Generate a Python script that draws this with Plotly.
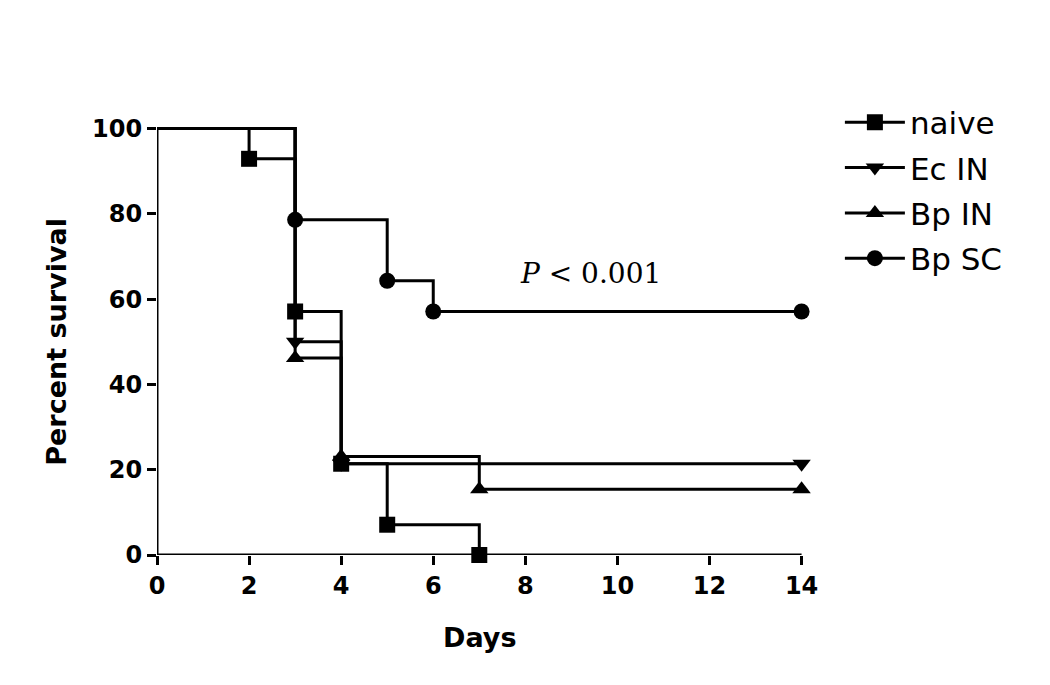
import plotly.graph_objects as go

# Survival data (Kaplan-Meier steps)
days_naive = [0, 2, 3, 4, 5, 7]
surv_naive = [100, 92.9, 57.1, 21.4, 7.1, 0]

days_ec = [0, 3, 4, 14]
surv_ec = [100, 50.0, 21.4, 21.4]

days_bpin = [0, 3, 4, 7, 14]
surv_bpin = [100, 46.2, 23.1, 15.4, 15.4]

days_bpsc = [0, 3, 5, 6, 14]
surv_bpsc = [100, 78.6, 64.3, 57.1, 57.1]

x_ticks = [0, 2, 4, 6, 8, 10, 12, 14]
y_ticks = [0, 20, 40, 60, 80, 100]

series = [
    ("naive", days_naive, surv_naive, "square"),
    ("Ec IN", days_ec, surv_ec, "triangle-down"),
    ("Bp IN", days_bpin, surv_bpin, "triangle-up"),
    ("Bp SC", days_bpsc, surv_bpsc, "circle"),
]

fig = go.Figure()
for name, xs, ys, sym in series:
    # initial segment from day 0 (no marker)
    fig.add_trace(go.Scatter(
        x=xs[:2], y=ys[:2], mode="lines", showlegend=False, hoverinfo="skip",
        line=dict(shape="hv", color="black", width=3), legendgroup=name,
    ))
    # event steps with markers
    fig.add_trace(go.Scatter(
        x=xs[1:], y=ys[1:], name=name, mode="lines+markers", legendgroup=name,
        line=dict(shape="hv", color="black", width=3),
        marker=dict(symbol=sym, size=16, color="black", opacity=1, line=dict(width=0)),
        cliponaxis=False,
    ))

# axis lines
fig.add_shape(type="line", xref="x", yref="y", x0=0, x1=14, y0=0, y1=0,
              line=dict(color="black", width=3))
fig.add_shape(type="line", xref="x", yref="y", x0=0, x1=0, y0=0, y1=100,
              line=dict(color="black", width=3))

tickfont = dict(family="DejaVu Sans", size=24, color="black", weight="bold")
fig.update_xaxes(range=[0, 14.4], tickvals=x_ticks, ticks="outside", ticklen=9,
                 tickwidth=3, tickcolor="black", showgrid=False, zeroline=False,
                 showline=False, tickfont=tickfont)
fig.update_yaxes(range=[0, 102], tickvals=y_ticks, ticks="outside", ticklen=9,
                 tickwidth=3, tickcolor="black", showgrid=False, zeroline=False,
                 showline=False, tickfont=tickfont)

title_font = dict(family="DejaVu Sans", size=27, color="black", weight="bold")
fig.add_annotation(text="Days", xref="x", yref="paper", x=7, y=0, yshift=-82,
                   showarrow=False, font=title_font, xanchor="center", yanchor="middle")
fig.add_annotation(text="Percent survival", xref="paper", yref="y", x=0, y=50,
                   xshift=-100, showarrow=False, font=title_font, textangle=-90,
                   xanchor="center", yanchor="middle")
fig.add_annotation(text="<i>P</i> < 0.001", xref="x", yref="y", x=9.42, y=66,
                   showarrow=False, xanchor="center", yanchor="middle",
                   font=dict(family="DejaVu Serif", size=28, color="black"))

fig.update_layout(
    width=1042, height=677,
    margin=dict(l=149, r=229.6, t=111.5, b=130),
    paper_bgcolor="white", plot_bgcolor="white",
    showlegend=True,
    legend=dict(x=1.03, y=1.056, xanchor="left", yanchor="top",
                font=dict(family="DejaVu Sans", size=31, color="black"),
                bgcolor="rgba(0,0,0,0)", traceorder="grouped", tracegroupgap=2,
                itemwidth=60),
)

fig.write_html("out.html")
